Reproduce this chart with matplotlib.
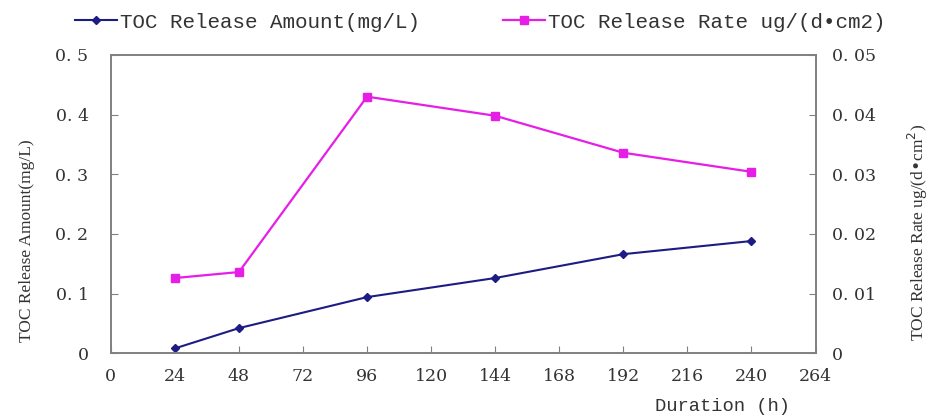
import matplotlib
matplotlib.use("Agg")
import matplotlib.pyplot as plt
from matplotlib.ticker import FuncFormatter

hours = [24, 48, 96, 144, 192, 240]
release_amount = [0.008, 0.042, 0.094, 0.126, 0.166, 0.188]
release_rate = [0.0126, 0.0136, 0.0430, 0.0398, 0.0336, 0.0304]
x_ticks = list(range(0, 265, 24))
left_ticks = [0, 0.1, 0.2, 0.3, 0.4, 0.5]
right_ticks = [0, 0.01, 0.02, 0.03, 0.04, 0.05]

fig = plt.figure(figsize=(9.31, 4.16), dpi=100)
ax = fig.add_axes([0.119, 0.151, 0.757, 0.717])
ax2 = ax.twinx()

serif = "Liberation Serif"
tickfont = "DejaVu Serif"
mono = "Liberation Mono"

l1, = ax.plot(hours, release_amount, color="#1c1c84", marker="D", markersize=4.5,
              lw=1.5, label="TOC Release Amount(mg/L)")
l2, = ax2.plot(hours, release_rate, color="#e61ee6", marker="s", markersize=6,
               lw=1.6, label="TOC Release Rate ug/(d\u2022cm2)")

ax.set_xlim(0, 264)
ax.set_ylim(0, 0.5)
ax2.set_ylim(0, 0.05)
ax.set_xticks(x_ticks)
ax.set_yticks(left_ticks)
ax2.set_yticks(right_ticks)

def fmt(v, p):
    if v == 0:
        return "0"
    s = f"{v:.2f}" if v < 0.1 - 1e-9 else f"{v:.1f}"
    return s.replace(".", ". ")

ax.yaxis.set_major_formatter(FuncFormatter(fmt))
ax2.yaxis.set_major_formatter(FuncFormatter(fmt))

for a in (ax, ax2):
    for s in a.spines.values():
        s.set_color("#808080")
        s.set_linewidth(1.2)
ax.tick_params(axis="x", direction="in", length=5, color="#808080",
               labelsize=12.5, labelcolor="#333333", pad=11)
ax.tick_params(axis="y", direction="in", length=5, color="#808080",
               labelsize=12.5, labelcolor="#333333", pad=16)
ax2.tick_params(axis="y", direction="in", length=5, color="#808080",
                labelsize=12.5, labelcolor="#333333", pad=12)
for lab in ax.get_xticklabels() + ax.get_yticklabels() + ax2.get_yticklabels():
    lab.set_fontfamily(tickfont)

ax.set_ylabel("TOC Release Amount(mg/L)", fontsize=12.5, fontfamily=serif,
              color="#333333")
ax.yaxis.set_label_coords(-0.108, 0.376)
ax2.set_ylabel("TOC Release Rate ug/(d\u2022cm$^2$)", fontsize=12.5, fontfamily=serif,
               color="#333333", rotation=90)
ax2.yaxis.set_label_coords(1.128, 0.406)
fig.text(0.776, 0.024, "Duration (h)", fontsize=13.5, fontfamily=mono,
         color="#333333", ha="center", va="center")

fig.legend(handles=[l1, l2], loc="upper center", bbox_to_anchor=(0.516, 1.015),
           ncol=2, frameon=False, prop={"family": mono, "size": 15},
           labelcolor="#333333", handlelength=2.0, handletextpad=0.15,
           columnspacing=4.0)

fig.savefig("out.png", dpi=100)
